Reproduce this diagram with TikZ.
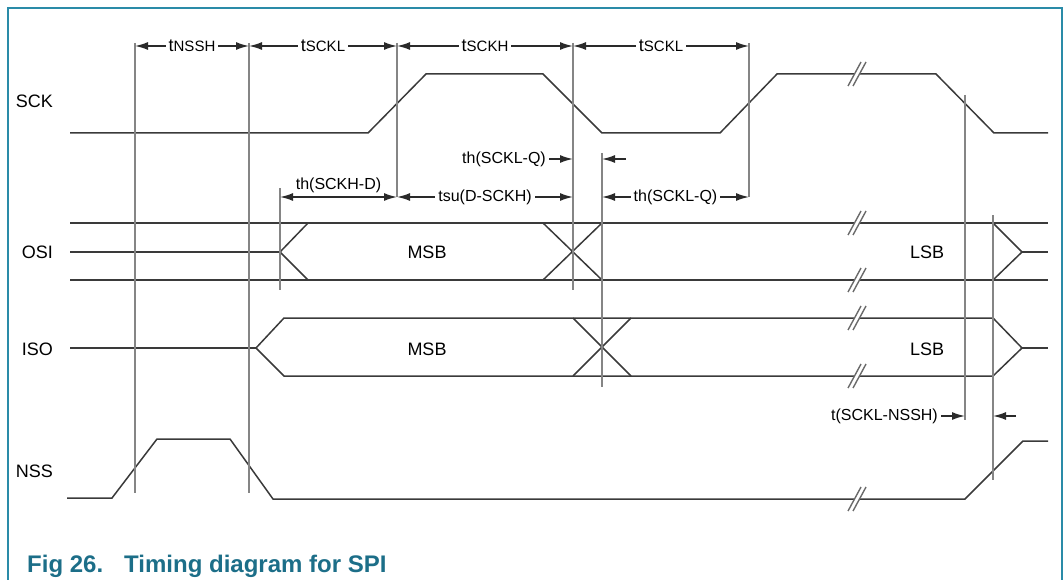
\documentclass[tikz,border=0pt]{standalone}
\usepackage{fontspec}
\setmainfont{Liberation Sans}
\usetikzlibrary{arrows.meta,positioning}

\definecolor{frameblue}{HTML}{2A8BA8}
\definecolor{captionblue}{HTML}{1C6E88}
\definecolor{sig}{HTML}{3A3A3A}
\definecolor{dim}{HTML}{2A2A2A}
\definecolor{tline}{HTML}{858585}

\newcommand{\tsub}[1]{{\fontsize{18}{18}\selectfont t}{\fontsize{15}{15}\selectfont #1}}

\begin{document}
\begin{tikzpicture}[x=1pt,y=-1pt]
    \tikzset{
      signal/.style={draw=sig,line width=1.5pt,line join=miter},
      timeline/.style={draw=tline,line width=2.4pt},
      dimline/.style={draw=dim,line width=1.6pt},
      dimarrow/.style={dimline,{Latex[length=13pt,width=8pt]}-{Latex[length=13pt,width=8pt]}},
      toarrow/.style={dimline,-{Latex[length=13pt,width=8pt]}},
      dimlabel/.style={fill=white,inner sep=3pt,font=\fontsize{16}{16}\selectfont},
      signame/.style={anchor=base east,inner sep=0pt,font=\fontsize{18}{18}\selectfont},
      buslabel/.style={anchor=base,inner sep=0pt,font=\fontsize{18}{18}\selectfont},
      brk/.pic={
        \fill[white] (-9,12) -- (-4,12) -- (9,-12) -- (4,-12) -- cycle;
        \draw[tline!80!black,line width=1.4pt] (-9,12) -- (4,-12) (-4,12) -- (9,-12);
      }
    }
    \useasboundingbox (0,0) rectangle (1064,580);
    \draw[frameblue,line width=1.5pt] (8,580) -- (8,8) -- (1062,8) -- (1062,580);

    % signal names
    \node[signame] (sck) at (53,108) {SCK};
    \node[signame] (osi) at (53,258) {OSI};
    \node[signame] (iso) at (53,355) {ISO};
    \node[signame] (nss) at (53,477) {NSS};

    % SCK
    \draw[signal] (70,133) -- (368,133) -- (426,74) -- (543,74) -- (602,133) -- (720,133)
      -- (777,74) -- (936,74) -- (994,133) -- (1048,133);
    % OSI
    \draw[signal] (70,223) -- (1048,223);
    \draw[signal] (70,280) -- (1048,280);
    \draw[signal] (70,252) -- (280,252);
    \draw[signal] (308,223) -- (280,252) -- (308,280);
    \draw[signal] (543,223) -- (602,280) (543,280) -- (602,223);
    \draw[signal] (993,223) -- (1022,252) -- (993,280);
    \draw[signal] (1022,252) -- (1048,252);
    % ISO
    \draw[signal] (70,348) -- (256,348);
    \draw[signal] (993,318) -- (284,318) -- (256,348) -- (284,376) -- (993,376);
    \draw[signal] (573,318) -- (631,376) (573,376) -- (631,318);
    \draw[signal] (993,318) -- (1022,348) -- (993,376);
    \draw[signal] (1022,348) -- (1048,348);
    % NSS
    \draw[signal] (67,498) -- (112,498) -- (157,439) -- (230,439) -- (273,499) -- (965,499)
      -- (1023,441) -- (1048,441);

    \foreach \y in {74,223,280,318,376,499}
      \pic at (857,\y) {brk};

    \node[buslabel] (osimsb) at (427,258) {MSB};
    \node[buslabel] (isomsb) at (427,355) {MSB};
    \node[buslabel] (osilsb) at (927,258) {LSB};
    \node[buslabel] (isolsb) at (927,355) {LSB};

    % timing lines
    \foreach \i/\x/\ya/\yb in {1/135/43/493, 2/249/43/493, 3/397/43/197, 4/573/43/290,
      5/602/153/387, 6/749/43/197, 7/280/188/290, 8/965/95/420, 9/993/215/480}{
      \coordinate (v\i t) at (\x,\ya);
      \coordinate (v\i b) at (\x,\yb);
      \draw[timeline] (v\i t) -- (v\i b);
    }

    \coordinate (r1) at (0,46);
    \coordinate (r2) at (0,159);
    \coordinate (r3) at (0,197);
    \coordinate (r4) at (0,416);

    \draw[dimarrow] (v1t |- r1) -- node[dimlabel] (tnssh) {\tsub{NSSH}} (v2t |- r1);
    \draw[dimarrow] (v2t |- r1) -- node[dimlabel] (tsckl) {\tsub{SCKL}} (v3t |- r1);
    \draw[dimarrow] (v3t |- r1) -- node[dimlabel] (tsckh) {\tsub{SCKH}} (v4t |- r1);
    \draw[dimarrow] (v4t |- r1) -- node[dimlabel] (tsckl2) {\tsub{SCKL}} (v6t |- r1);

    \node[dimlabel,anchor=east] (thsq) at (549,159) {th(SCKL-Q)};
    \draw[toarrow] (thsq.east) -- (v4t |- r2);
    \coordinate (q2) at (626,159);
    \draw[toarrow] (q2) -- (v5t |- r2);

    \draw[dimarrow] (v7t |- r3) -- node[dimlabel,above,fill=none,yshift=0pt] (thsd) {th(SCKH-D)} (v3t |- r3);
    \draw[dimarrow] (v3t |- r3) -- node[dimlabel] (tsud) {tsu(D-SCKH)} (v4t |- r3);
    \draw[dimarrow] (v5t |- r3) -- node[dimlabel] (thsq2) {th(SCKL-Q)} (v6t |- r3);

    \node[dimlabel,anchor=east] (tsn) at (941,416) {t(SCKL-NSSH)};
    \draw[toarrow] (tsn.east) -- (v8t |- r4);
    \coordinate (q4) at (1016,416);
    \draw[toarrow] (q4) -- (v9t |- r4);

    \node[anchor=base west,inner sep=0pt,text=captionblue,font=\bfseries\fontsize{24}{24}\selectfont] (caption)
      at (27,572) {Fig 26.\hspace{21pt}Timing diagram for SPI};
\end{tikzpicture}
\end{document}
